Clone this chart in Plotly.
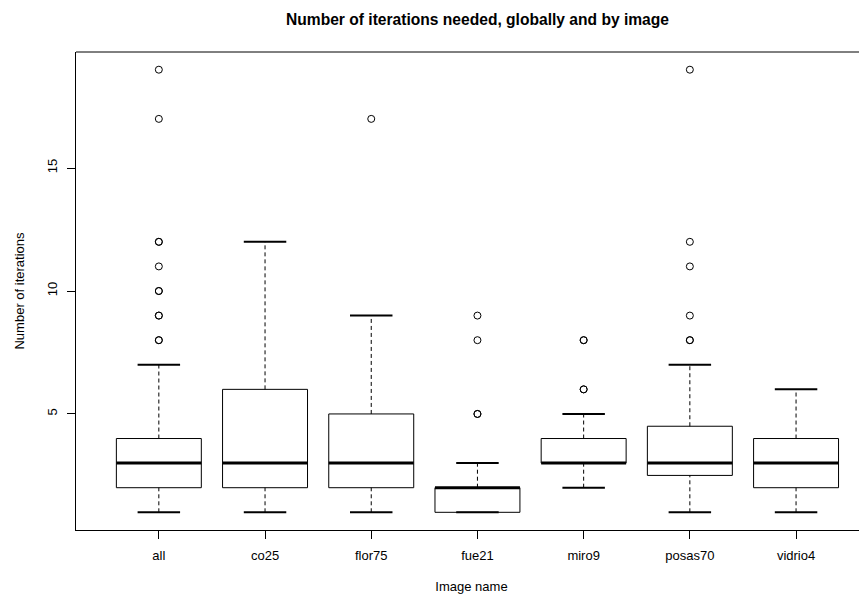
import plotly.graph_objects as go

# ---- data ----
categories = ["all", "co25", "flor75", "fue21", "miro9", "posas70", "vidrio4"]
lower_whisker = [1, 1, 1, 1, 2, 1, 1]
q1 = [2, 2, 2, 1, 3, 2.5, 2]
median = [3, 3, 3, 2, 3, 3, 3]
q3 = [4, 6, 5, 2, 4, 4.5, 4]
upper_whisker = [7, 12, 9, 3, 5, 7, 6]
outliers = {
    "all": [8, 8, 9, 9, 10, 10, 11, 12, 12, 17, 19],
    "co25": [],
    "flor75": [17],
    "fue21": [5, 5, 8, 9],
    "miro9": [6, 6, 8, 8],
    "posas70": [8, 8, 9, 11, 12, 19],
    "vidrio4": [],
}
y_ticks = [5, 10, 15]

BOX_HALF = 0.4
CAP_HALF = 0.2

fig = go.Figure()
for i, cat in enumerate(categories):
    pos = i + 1
    # box outline
    fig.add_trace(go.Scatter(
        x=[pos - BOX_HALF, pos + BOX_HALF, pos + BOX_HALF, pos - BOX_HALF, pos - BOX_HALF],
        y=[q1[i], q1[i], q3[i], q3[i], q1[i]],
        mode="lines", line=dict(color="black", width=1), hoverinfo="skip"))
    # whiskers (dashed)
    fig.add_trace(go.Scatter(
        x=[pos, pos, None, pos, pos],
        y=[lower_whisker[i], q1[i], None, q3[i], upper_whisker[i]],
        mode="lines", line=dict(color="black", width=1, dash="4px,3px"), hoverinfo="skip"))
    # caps
    fig.add_trace(go.Scatter(
        x=[pos - CAP_HALF, pos + CAP_HALF, None, pos - CAP_HALF, pos + CAP_HALF],
        y=[lower_whisker[i], lower_whisker[i], None, upper_whisker[i], upper_whisker[i]],
        mode="lines", line=dict(color="black", width=2), hoverinfo="skip"))
    # median
    fig.add_trace(go.Scatter(
        x=[pos - BOX_HALF, pos + BOX_HALF],
        y=[median[i], median[i]],
        mode="lines", line=dict(color="black", width=3), hoverinfo="skip"))
    # outliers
    if outliers[cat]:
        fig.add_trace(go.Scatter(
            x=[pos] * len(outliers[cat]), y=outliers[cat], mode="markers",
            marker=dict(symbol="circle-open", size=7, color="black", line=dict(width=1)),
            hoverinfo="y"))

font = "Liberation Sans, Arial, Helvetica, sans-serif"
# the page body adds an 8px offset; the figure is sized to fit the window
W, H = 859, 586
fig.update_layout(
    width=W, height=H,
    margin=dict(l=68, r=0, t=44, b=64),
    paper_bgcolor="white", plot_bgcolor="white",
    showlegend=False,
    font=dict(family=font, size=13, color="black"),
    title=dict(text="<b>Number of iterations needed, globally and by image</b>",
               x=469.5 / W, xref="container", xanchor="center",
               y=1 - 12 / H, yref="container", yanchor="middle",
               font=dict(size=15.6, family=font, color="black")),
    xaxis=dict(range=[0.22, 7.668], tickmode="array",
               tickvals=list(range(1, len(categories) + 1)), ticktext=categories,
               showgrid=False, zeroline=False, showline=True, linecolor="black", linewidth=1,
               ticks="outside", ticklen=8, tickcolor="black", tickwidth=1,
               tickfont=dict(size=13), ticklabelstandoff=5,
               title=dict(text="Image name", font=dict(size=13), standoff=21)),
    yaxis=dict(range=[0.28, 19.72], tickmode="array", tickvals=y_ticks,
               ticktext=[str(v) for v in y_ticks], tickangle=-90,
               showgrid=False, zeroline=False, showline=True, linecolor="black", linewidth=1,
               ticks="outside", ticklen=8, tickcolor="black", tickwidth=1,
               tickfont=dict(size=13), ticklabelstandoff=5,
               title=dict(text="Number of iterations", font=dict(size=13), standoff=17)),
    shapes=[dict(type="line", xref="paper", yref="paper", x0=0, x1=1, y0=1, y1=1,
                 line=dict(color="black", width=1))],
)

fig.write_html("out.html")
